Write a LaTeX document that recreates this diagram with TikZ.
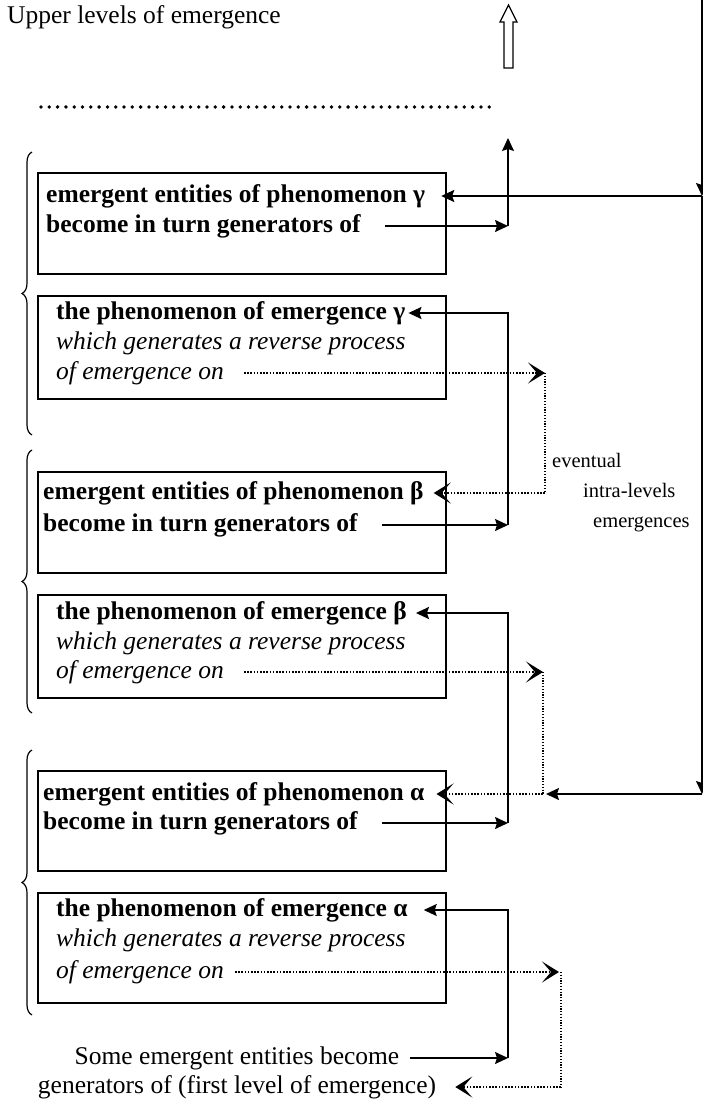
\documentclass[tikz,border=0pt]{standalone}
\usepackage{fontspec}
\setmainfont{Liberation Serif}
\usetikzlibrary{arrows.meta,decorations.pathreplacing}

\begin{document}
\begin{tikzpicture}[x=1pt,y=-1pt,
  box/.style={draw, line width=1.6pt, minimum width=408pt, anchor=north west, inner sep=0pt},
  txt/.style={anchor=west, inner sep=0pt, text height=18pt, text depth=6pt,
              font=\fontsize{25.5}{30}\selectfont},
  btxt/.style={txt, font=\fontsize{25.5}{30}\selectfont\bfseries},
  itxt/.style={txt, font=\fontsize{25.5}{30}\selectfont\itshape},
  small/.style={anchor=west, inner sep=0pt, text height=14pt, text depth=5pt,
              font=\fontsize{20.5}{24}\selectfont},
  link/.style={line width=1.6pt, -{Stealth[length=13pt,width=12pt,inset=2pt]}},
  dlink/.style={line width=1.6pt, dash pattern=on 1.6pt off 1.6pt,
              -{Stealth[length=17pt,width=21pt,inset=9pt]}},
  dplain/.style={line width=1.2pt, dash pattern=on 1.2pt off 1.6pt},
  bracket/.style={decorate, decoration={brace, amplitude=10pt}, line width=1.2pt},
]
\useasboundingbox (0,0) rectangle (703,1102);

% heading and the open arrow towards the upper levels
\node[txt] (top) at (7,18) {Upper levels of emergence};
\draw[line width=1.3pt, fill=white] (504,68) -- (504,22) -- (500,22) -- (508.5,5)
  -- (517,22) -- (513,22) -- (513,68) -- cycle;
\draw[line width=3.8pt, line cap=round, dash pattern=on 0pt off 8.3pt] (41,107) -- (496,107);

% boxes
\node[box, minimum height=101pt] (b1) at (37,172) {};
\node[box, minimum height=103pt] (b2) at (37,295) {};
\node[box, minimum height=101pt] (b3) at (37,471) {};
\node[box, minimum height=103pt] (b4) at (37,594) {};
\node[box, minimum height=100pt] (b5) at (37,770) {};
\node[box, minimum height=110pt] (b6) at (37,892) {};

% box texts
\node[btxt] (t11) at (46,196) {emergent entities of phenomenon γ};
\node[btxt] (t12) at (46,226) {become in turn generators of};
\node[btxt] (t21) at (56,313) {the phenomenon of emergence γ};
\node[itxt] (t22) at (56,343) {which generates a reverse process};
\node[itxt] (t23) at (56,373) {of emergence on};

\node[btxt] (t31) at (43,493) {emergent entities of phenomenon β};
\node[btxt] (t32) at (43,525) {become in turn generators of};
\node[btxt] (t41) at (56,613) {the phenomenon of emergence β};
\node[itxt] (t42) at (56,643) {which generates a reverse process};
\node[itxt] (t43) at (56,672) {of emergence on};

\node[btxt] (t51) at (43,794) {emergent entities of phenomenon α};
\node[btxt] (t52) at (43,823) {become in turn generators of};
\node[btxt] (t61) at (56,910) {the phenomenon of emergence α};
\node[itxt] (t62) at (56,940) {which generates a reverse process};
\node[itxt] (t63) at (56,972) {of emergence on};

\node[txt, anchor=center] (u1) at (237,1058) {Some emergent entities become};
\node[txt, anchor=center] (u2) at (237,1087) {generators of (first level of emergence)};

% side label
\node[small] (l1) at (552,463) {eventual};
\node[small] (l2) at (583,493) {intra-levels};
\node[small] (l3) at (593,523) {emergences};

% braces grouping each level
\draw[bracket] (32,435) -- (32,152);
\draw[bracket] (32,713) -- (32,450);
\draw[bracket] (32,1015) -- (32,750);

% junction points
\coordinate (j0) at (508,138);
\coordinate (j1) at (508,226);
\coordinate (j2) at (508,525);
\coordinate (j3) at (508,823);
\coordinate (j4) at (508,1058);
\coordinate (r0) at (702,0);
\coordinate (r1) at (702,196);
\coordinate (r2) at (702,794);
\coordinate (d1) at (545,373);
\coordinate (d2) at (545,493);
\coordinate (d3) at (543,672);
\coordinate (d4) at (543,794);
\coordinate (d5) at (561,972);
\coordinate (d6) at (561,1087);

% solid connectors
\draw[link] ([xshift=24pt]t12.east) -- (j1);
\draw[link] (j1) -- (j0);
\draw[link] ([xshift=24pt]t32.east) -- (j2);
\draw[link] (j2) |- ([xshift=3pt]t21.east);
\draw[link] ([xshift=24pt]t52.east) -- (j3);
\draw[link] (j3) |- ([xshift=9pt]t41.east);
\draw[link] ([xshift=11pt]u1.east) -- (j4);
\draw[link] (j4) |- ([xshift=16pt]t61.east);

% feedback from the upper levels
\draw[link] (r0) -- (r1);
\draw[link] (r1) -- (r2);
\draw[link] (r1) -- ([xshift=16pt]t11.east);
\draw[link] (r2) -- ([xshift=3pt]d4);

% dotted reverse processes
\draw[dlink] ([xshift=20pt]t23.east) -- (d1);
\draw[dplain] (d1) -- (d2);
\draw[dlink] (d2) -- ([xshift=10pt]t31.east);
\draw[dlink] ([xshift=20pt]t43.east) -- (d3);
\draw[dplain] (d3) -- (d4);
\draw[dlink] (d4) -- ([xshift=12pt]t51.east);
\draw[dlink] ([xshift=11pt]t63.east) -- ([xshift=-2pt]d5);
\draw[dplain] (d5) -- (d6);
\draw[dlink] (d6) -- ([xshift=19pt]u2.east);
\end{tikzpicture}
\end{document}
